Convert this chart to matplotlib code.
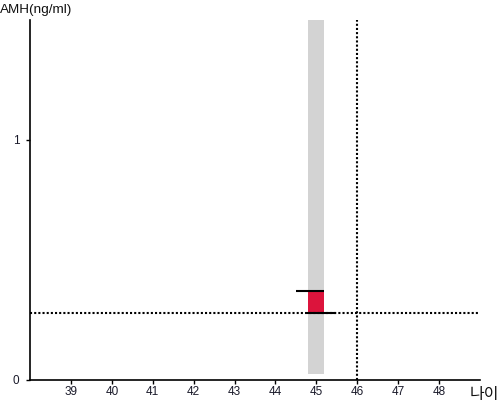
import matplotlib
matplotlib.use("Agg")
import matplotlib.pyplot as plt

plt.rcParams['font.family'] = ['Liberation Sans', 'Noto Sans CJK KR', 'DejaVu Sans']

# data
ages = list(range(39, 49))
bar_age = 45
band_bottom = 0.025
band_top = 1.5
amh_low = 0.28
amh_high = 0.37
ref_amh = 0.28
ref_age = 46
y_ticks = [0, 1]
x_label = "나이"
y_label = "AMH(ng/ml)"

fig = plt.figure(figsize=(5, 4), dpi=100)
ax = fig.add_axes([0.06, 0.05, 0.90, 0.90])
ax.set_xlim(38, 49)
ax.set_ylim(0, 1.5)

# grey band
ax.bar([bar_age], [band_top - band_bottom], bottom=[band_bottom], width=0.39,
       color='#d3d3d3', zorder=1)
# red range bar
ax.bar([bar_age], [amh_high - amh_low], bottom=[amh_low], width=0.39,
       color='#dc143c', zorder=2)
# black caps
ax.hlines(amh_high, bar_age - 0.5, bar_age + 0.19, color='black', lw=1.5, zorder=3)
ax.hlines(amh_low, bar_age - 0.23, bar_age + 0.48, color='black', lw=1.5, zorder=3)

# reference dotted lines
ax.axhline(ref_amh, color='black', lw=1.5, dashes=(1, 1), zorder=4)
ax.axvline(ref_age, color='black', lw=1.5, dashes=(1, 1), zorder=4)

ax.spines['top'].set_visible(False)
ax.spines['right'].set_visible(False)
ax.spines['left'].set_linewidth(1.2)
ax.spines['bottom'].set_linewidth(1.2)

ax.set_xticks(ages)
ax.set_xticklabels([str(a) for a in ages], fontsize=8.5, color='#1a1a2a')
ax.set_yticks(y_ticks)
ax.set_yticklabels([str(t) for t in y_ticks], fontsize=8.5, color='#1a1a2a')
ax.tick_params(axis='x', length=3, width=1, pad=1.5)
ax.tick_params(axis='y', length=3, width=1, pad=4.5)

fig.text(0.0, 0.975, y_label, fontsize=9.7, ha='left', va='center', color='#111111')
fig.text(0.998, 0.015, x_label, fontsize=11.5, ha='right', va='center', color='#111111')

fig.savefig("out.png", dpi=100)
